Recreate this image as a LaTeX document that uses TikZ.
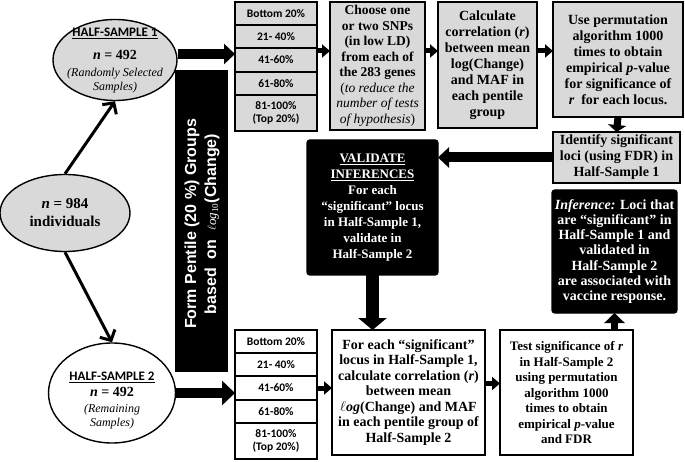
\documentclass[tikz,border=0pt]{standalone}
\usepackage{fontspec}
\setmainfont{Liberation Serif}
\setsansfont{Liberation Sans}
\newfontfamily\calib{Carlito}
\usepackage{xcolor}
\usetikzlibrary{shapes.geometric, arrows.meta, positioning}
\definecolor{boxgray}{HTML}{D9D9D9}
\tikzset{
  pbox/.style  = {rectangle, draw, line width=1.4pt, fill=boxgray,
                  align=center, inner sep=1pt, outer sep=0pt,
                  font=\bfseries\fontsize{14}{16}\selectfont},
  dbox/.style  = {pbox, fill=black, text=white, rounded corners=3pt},
  prow/.style  = {rectangle, draw, line width=1.3pt, fill=boxgray,
                  minimum width=82pt, minimum height=23pt, align=center,
                  inner sep=0pt, outer sep=0pt,
                  font=\calib\bfseries\fontsize{11.5}{12.5}\selectfont},
  oval/.style  = {ellipse, draw, line width=1.4pt, fill=boxgray, inner sep=0pt},
  fatarr/.style = {line width=10pt, -{Triangle[length=11pt, width=20pt]}},
  midarr/.style = {line width=5pt, -{Triangle[length=8pt, width=13pt]}},
  diarr/.style  = {line width=3pt, -{Straight Barb[length=8pt, width=17pt]}},
}

\begin{document}
\begin{tikzpicture}[x=1pt, y=-1pt, node distance=0pt]
  \useasboundingbox (0,0) rectangle (685,462);

  % samples
  \node[oval, minimum width=130pt, minimum height=77pt] (all) at (65,213) {};
  \node[align=center, font=\bfseries\fontsize{15}{18}\selectfont] (allt) at (all)
    {\textit{n} = 984\\individuals};
  \node[oval, minimum width=124pt, minimum height=81pt] (hs1) at (115,60) {};
  \node[align=center, font=\fontsize{12}{14}\selectfont] (hs1t) at (115,61)
    {{\calib\bfseries\fontsize{13}{15}\selectfont\underline{HALF-SAMPLE 1}}\\[9pt]
     {\bfseries\fontsize{14}{16}\selectfont\textit{n} = 492}\\[3pt]
     {\itshape (Randomly Selected}\\
     {\itshape Samples)}};
  \node[oval, fill=white, minimum width=127pt, minimum height=100pt] (hs2) at (112,393) {};
  \node[align=center, font=\fontsize{12}{14.5}\selectfont] (hs2t) at (112,401)
    {{\calib\bfseries\fontsize{13}{15}\selectfont\underline{HALF-SAMPLE 2}}\\[1pt]
     {\bfseries\fontsize{14}{16}\selectfont\textit{n} = 492}\\[1.5pt]
     {\itshape (Remaining}\\
     {\itshape Samples)}};

  \node[fill=black, minimum width=53pt, minimum height=302pt, inner sep=0pt,
        anchor=north west] (form) at (175,70) {};
  \node[rotate=90, text=white, align=center,
        font=\sffamily\bfseries\fontsize{16}{20}\selectfont] (formt) at (202,224)
    {Form Pentile (20 \%) Groups\\based~~on~~{\normalfont\itshape\fontsize{13}{15}\selectfont $\ell$og$_{\mathrm{10}}$}(Change)};

  % pentile groups, half-sample 1
  \node[prow, anchor=north west] (p1) at (235,2) {Bottom 20\%};
  \node[prow, below=of p1] (p2) {21- 40\%};
  \node[prow, below=of p2, minimum height=24pt] (p3) {41-60\%};
  \node[prow, below=of p3] (p4) {61-80\%};
  \node[prow, below=of p4, minimum height=36pt] (p5) {81-100\%\\(Top 20\%)};

  % pentile groups, half-sample 2
  \node[prow, fill=white, anchor=north west] (q1) at (235,330) {Bottom 20\%};
  \node[prow, fill=white, below=of q1] (q2) {21- 40\%};
  \node[prow, fill=white, below=of q2, minimum height=24pt] (q3) {41-60\%};
  \node[prow, fill=white, below=of q3] (q4) {61-80\%};
  \node[prow, fill=white, below=of q4, minimum height=36pt] (q5) {81-100\%\\(Top 20\%)};

  \node[pbox, anchor=north west, minimum width=95pt, minimum height=128pt,
        font=\bfseries\fontsize{13.5}{15.5}\selectfont] (choose) at (330,2)
    {Choose one\\or two SNPs\\(in low LD)\\from each of\\the 283 genes\\
     {\mdseries(\itshape to reduce the}\\{\mdseries\itshape number of tests}\\
     {\mdseries\itshape of hypothesis\upshape)}};
  \node[pbox, anchor=north west, minimum width=99pt, minimum height=126pt] (calc) at (438,2)
    {Calculate\\correlation (\textit{r})\\between mean\\log(Change)\\and MAF in\\each pentile\\group};
  \node[pbox, anchor=north west, minimum width=130pt, minimum height=115pt] (perm) at (553,2)
    {Use permutation\\algorithm 1000\\times to obtain\\empirical \textit{p}-value\\for significance of\\\textit{r}~~for each locus.};
  \node[pbox, anchor=north west, minimum width=127pt, minimum height=51pt] (ident) at (553,132)
    {Identify significant\\loci (using FDR) in\\Half-Sample 1};
  \node[dbox, anchor=north west, minimum width=131pt, minimum height=135pt,
        font=\bfseries\fontsize{13}{16}\selectfont] (valid) at (307,140)
    {\underline{VALIDATE}\\\underline{INFERENCES}\\For each\\“significant” locus\\in Half-Sample 1,\\validate in\\Half-Sample 2};
  \node[dbox, anchor=north west, minimum width=125pt, minimum height=123pt,
        font=\bfseries\fontsize{14}{15.3}\selectfont] (infer) at (552,190)
    {\textit{Inference:} Loci that\\are “significant” in\\Half-Sample 1 and\\validated in\\Half-Sample 2\\are associated with\\vaccine response.};
  \node[pbox, fill=white, anchor=north west, minimum width=153pt, minimum height=125pt,
        font=\bfseries\fontsize{14}{15.5}\selectfont] (each) at (332,330)
    {For each “significant”\\locus in Half-Sample 1,\\calculate correlation (\textit{r})\\between mean\\{\itshape $\ell$og}(Change) and MAF\\in each pentile group of\\Half-Sample 2};
  \node[pbox, fill=white, anchor=north west, minimum width=133pt, minimum height=125pt,
        font=\bfseries\fontsize{13}{15.5}\selectfont] (test) at (500,330)
    {Test significance of \textit{r}\\in Half-Sample 2\\using permutation\\algorithm 1000\\times to obtain\\empirical \textit{p}-value\\and FDR};

  \coordinate (ty) at (0,51);

  \draw[diarr] (all.north) -- (hs1.south);
  \draw[diarr] (all.south) -- (hs2.north);
  \draw[fatarr] ([yshift=6pt]hs1.east) -- ([yshift=6pt]hs1.east -| p3.west);
  \draw[line width=10pt, -{Triangle[length=13pt, width=24pt]}] (hs2.east) -- (hs2.east -| q3.west);
  \draw[midarr] (p3.east |- ty) -- (choose.west |- ty);
  \draw[midarr] (choose.east |- ty) -- (calc.west |- ty);
  \draw[midarr] (calc.east |- ty) -- (perm.west |- ty);
  \draw[line width=7pt, -{Triangle[length=7pt, width=18pt]}] (perm.south) -- (ident.north);
  \draw[fatarr] (ident.west) -- (valid.east |- ident.west);
  \draw[line width=13pt, -{Triangle[length=12pt, width=28pt]}] (valid.south) -- (valid.south |- each.north);
  \draw[midarr] (q3.east) -- (q3.east -| each.west);
  \draw[midarr] ([yshift=9pt]each.east) -- ([yshift=9pt]each.east -| test.west);
  \draw[line width=7pt, -{Triangle[length=10pt, width=20pt]}] (infer.south |- test.north) -- (infer.south);
\end{tikzpicture}
\end{document}
